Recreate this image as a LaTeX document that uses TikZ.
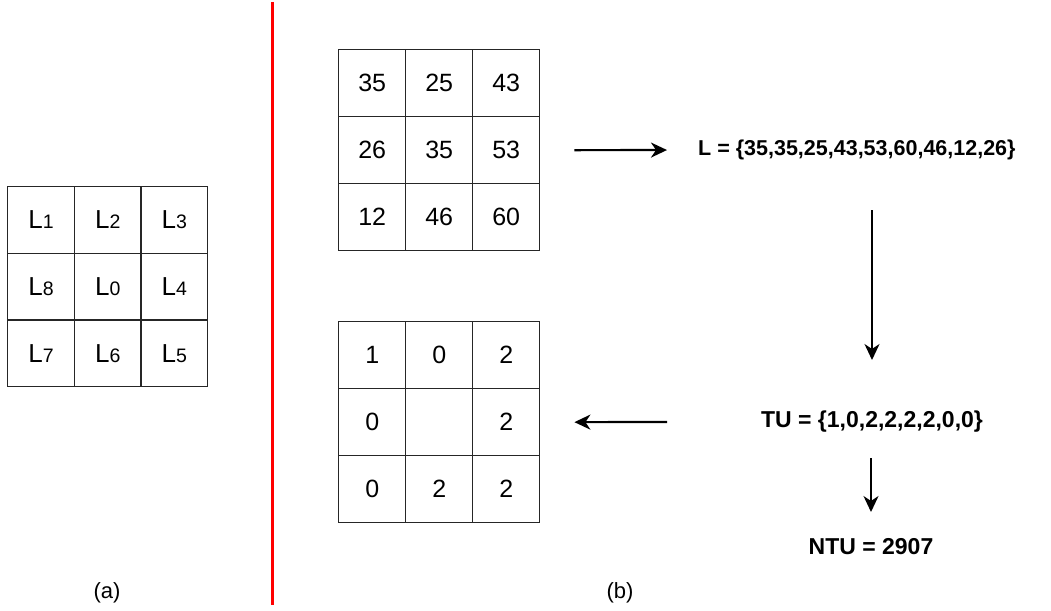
\documentclass[tikz,border=0pt]{standalone}
\usepackage{fontspec}
\setmainfont{Liberation Sans}
\usetikzlibrary{arrows.meta}
\begin{document}
\begin{tikzpicture}[x=1pt,y=-1pt,
  cell/.style={draw=black!85,line width=1.4pt,minimum size=67pt,inner sep=0pt,anchor=north west,font=\fontsize{25}{25}\selectfont},
  lcell/.style={cell,minimum size=66.67pt},
  big/.style={font=\fontsize{21.5}{21.5}\selectfont\bfseries,inner sep=0pt},
  bigger/.style={font=\fontsize{23}{23}\selectfont\bfseries,inner sep=0pt},
  captext/.style={font=\fontsize{22}{22}\selectfont,inner sep=0pt},
  arr/.style={line width=2.2pt,-{Stealth[length=16pt,width=15pt,inset=5pt]}}]
\useasboundingbox (0,0) rectangle (1051,610);
% (a) grid
\foreach \r/\c/\d in {1/1/1,1/2/2,1/3/3,2/1/8,2/2/0,2/3/4,3/1/7,3/2/6,3/3/5}
  \node[lcell] (a-\r-\c) at ({7+(\c-1)*66.67},{186+(\r-1)*66.67})
    {{\fontsize{26}{26}\selectfont L}{\fontsize{19.5}{19.5}\selectfont\d}};
% red separator
\coordinate (sepT) at (272,2);
\coordinate (sepB) at (272,605);
\draw[red,line width=3pt] (sepT) -- (sepB);
% top grid
\foreach \r/\c/\t in {1/1/35,1/2/25,1/3/43,2/1/26,2/2/35,2/3/53,3/1/12,3/2/46,3/3/60}
  \node[cell] (g-\r-\c) at ({338+(\c-1)*67},{49+(\r-1)*67}) {\t};
% bottom grid
\foreach \r/\c/\t in {1/1/1,1/2/0,1/3/2,2/1/0,2/2/{},2/3/2,3/1/0,3/2/2,3/3/2}
  \node[cell] (h-\r-\c) at ({338+(\c-1)*67},{321+(\r-1)*67}) {\t};
% texts
\node[big,anchor=west] (Lset) at (698,150) {L = \{35,35,25,43,53,60,46,12,26\}};
\node[bigger] (TU) at (872,422) {TU = \{1,0,2,2,2,2,0,0\}};
\node[bigger] (NTU) at (871,547) {NTU = 2907};
\node[captext] (capa) at (107,593) {(a)};
\node[captext] (capb) at (620,593) {(b)};
% arrows
\draw[arr,shorten <=34pt,shorten >=31pt] (g-2-3.east) -- (Lset.west);
\coordinate (v1s) at (872,210);
\coordinate (v1e) at (872,360);
\draw[arr] (v1s) -- (v1e);
\coordinate (hs) at (667,422);
\draw[arr,shorten >=34pt] (hs) -- (h-2-3.east);
\coordinate (v2s) at (871,458);
\coordinate (v2e) at (871,512);
\draw[arr] (v2s) -- (v2e);
\end{tikzpicture}
\end{document}
